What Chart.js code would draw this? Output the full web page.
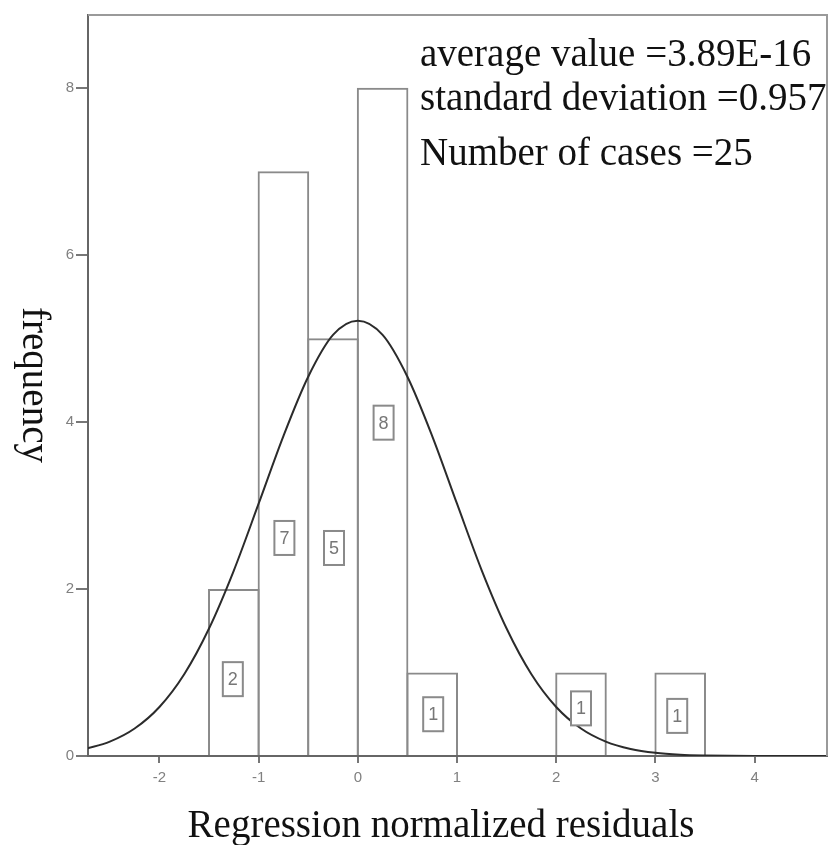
<!DOCTYPE html>
<html>
<head>
<meta charset="utf-8">
<script src="https://cdn.jsdelivr.net/npm/chart.js@4"></script>
<style>
  body { margin: 0; background: #fff; }
  #wrap { width: 829px; height: 845px; }
</style>
</head>
<body>
<div id="wrap"><canvas id="myChart"></canvas></div>
<script>
// histogram bins (centre of each 0.5 wide bin) and counts
var binCenters = [-1.25, -0.75, -0.25, 0.25, 0.75, 2.25, 3.25];
var frequencies = [2, 7, 5, 8, 1, 1, 1];

// normal curve
var curveX = [-2.75, -2.5, -2.25, -2, -1.75, -1.5, -1.25, -1, -0.75, -0.5, -0.25, 0,
              0.25, 0.5, 0.75, 1, 1.25, 1.5, 1.75, 2, 2.25, 2.5, 2.75, 3, 3.25, 3.5, 3.75, 4, 4.5, 4.75];
var curveY = [0.084, 0.172, 0.329, 0.587, 0.979, 1.526, 2.22, 3.02, 3.83, 4.54, 5.04, 5.21,
              5.04, 4.54, 3.83, 3.02, 2.22, 1.526, 0.979, 0.587, 0.329, 0.172, 0.084, 0.038, 0.016, 0.0065, 0.0024, 0.0008, 0, 0];

// where the count boxes sit
var labelX = [-1.26, -0.74, -0.24, 0.26, 0.76, 2.25, 3.22];
var labelY = [0.92, 2.61, 2.49, 3.99, 0.5, 0.57, 0.48];

var xTicks = [-2, -1, 0, 1, 2, 3, 4];
var yTicks = [0, 2, 4, 6, 8];

var statLines = ['average value =3.89E-16', 'standard deviation =0.957', 'Number of cases =25'];
var xTitle = 'Regression normalized residuals';
var yTitle = 'frequency';

var serif = '"Liberation Serif", "Times New Roman", serif';

var extras = {
  id: 'extras',
  afterDatasetsDraw: function (chart) {
    var c = chart.ctx, xs = chart.scales.x, ys = chart.scales.y;
    c.save();
    c.font = '18px "Liberation Sans", Arial, sans-serif';
    c.textAlign = 'center';
    c.textBaseline = 'middle';
    for (var i = 0; i < frequencies.length; i++) {
      var px = xs.getPixelForValue(labelX[i]);
      var py = ys.getPixelForValue(labelY[i]);
      c.fillStyle = '#fff';
      c.fillRect(px - 10, py - 17, 20, 34);
      c.strokeStyle = '#8a8a8a';
      c.lineWidth = 2;
      c.strokeRect(px - 10, py - 17, 20, 34);
      c.fillStyle = '#777';
      c.fillText(String(frequencies[i]), px, py + 1);
    }
    c.restore();
  },
  afterDraw: function (chart) {
    var c = chart.ctx, a = chart.chartArea;
    c.save();
    // top and right frame
    c.strokeStyle = '#9a9a9a';
    c.lineWidth = 2;
    c.beginPath();
    c.moveTo(a.left, a.top);
    c.lineTo(a.right, a.top);
    c.lineTo(a.right, a.bottom);
    c.stroke();

    c.fillStyle = '#111';
    c.font = '39px ' + serif;
    c.textAlign = 'left';
    c.textBaseline = 'alphabetic';
    var base = [66, 110, 165];
    statLines.forEach(function (t, i) { c.fillText(t, 420, base[i]); });

    c.textAlign = 'center';
    c.fillText(xTitle, 441, 837);

    c.translate(23, 385);
    c.rotate(Math.PI / 2);
    c.fillText(yTitle, 0, 0);
    c.restore();
  }
};

var ctx = document.getElementById('myChart').getContext('2d');
var chart = new Chart(ctx, {
  type: 'bar',
  data: {
    datasets: [{
      type: 'line',
      data: curveX.map(function (x, i) { return { x: x, y: curveY[i] }; }),
      borderColor: '#2b2b2b',
      borderWidth: 2,
      pointRadius: 0,
      fill: false,
      cubicInterpolationMode: 'monotone'
    }, {
      type: 'bar',
      data: binCenters.map(function (x, i) { return { x: x, y: frequencies[i] }; }),
      backgroundColor: 'rgba(0,0,0,0)',
      borderColor: '#8a8a8a',
      borderWidth: 2,
      inflateAmount: 0,
      barPercentage: 1.04,
      categoryPercentage: 1
    }]
  },
  options: {
    responsive: true,
    maintainAspectRatio: false,
    animation: false,
    layout: { padding: { top: 15, right: 2 } },
    plugins: { legend: { display: false }, tooltip: { enabled: false } },
    scales: {
      x: {
        type: 'linear',
        min: -2.72,
        max: 4.73,
        offset: false,
        afterFit: function (s) { s.height = 89; },
        afterBuildTicks: function (s) { s.ticks = xTicks.map(function (v) { return { value: v }; }); },
        grid: { offset: false, drawOnChartArea: false, tickLength: 7, color: '#777', lineWidth: 2 },
        border: { color: '#666', width: 2 },
        ticks: { color: '#808080', padding: 6, maxRotation: 0, font: { family: '"Liberation Sans", Arial, sans-serif', size: 15 } }
      },
      y: {
        min: 0,
        max: 8.87,
        afterFit: function (s) { s.width = 88; },
        afterBuildTicks: function (s) { s.ticks = yTicks.map(function (v) { return { value: v }; }); },
        grid: { drawOnChartArea: false, tickLength: 12, color: '#777', lineWidth: 2 },
        border: { color: '#666', width: 2 },
        ticks: { color: '#808080', padding: 2, font: { family: '"Liberation Sans", Arial, sans-serif', size: 15 } }
      }
    }
  },
  plugins: [extras]
});
</script>
</body>
</html>
